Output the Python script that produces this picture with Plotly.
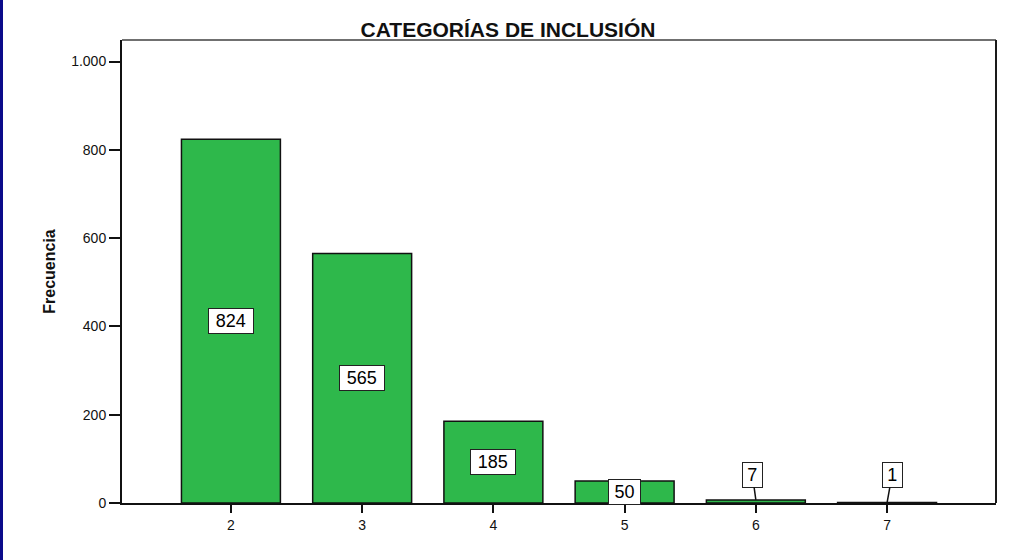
import plotly.graph_objects as go

# Frequency table for "CATEGORÍAS DE INCLUSIÓN"
categorias = ["2", "3", "4", "5", "6", "7"]
frecuencias = [824, 565, 185, 50, 7, 1]
y_ticks = [0, 200, 400, 600, 800, 1000]
y_tick_labels = ["0", "200", "400", "600", "800", "1.000"]

BAR_GREEN = "#2EB84B"
FONT = "Arial, 'Liberation Sans', sans-serif"

W, H = 1016, 560
M_L, M_R, M_T, M_B = 122, 20, 40, 57
plot_w = W - M_L - M_R

fig = go.Figure(
    go.Bar(
        x=categorias,
        y=frecuencias,
        width=0.754,
        marker=dict(color=BAR_GREEN, line=dict(color="#111111", width=1.5)),
        hoverinfo="x+y",
    )
)

# Value labels: boxed, centred in the bar; tiny bars get a leader line from above
annotations = []
for idx, (cat, val) in enumerate(zip(categorias, frecuencias)):
    txt = str(val)
    box_w = 12.5 * len(txt) + 6
    common = dict(
        x=idx,  # category axis position of this bar
        text=txt,
        font=dict(family=FONT, size=18, color="#000000"),
        bgcolor="#FFFFFF",
        bordercolor="#222222",
        borderwidth=1,
        borderpad=0,
        width=box_w,
        height=24,
        align="center",
        valign="middle",
    )
    if val >= 40:
        annotations.append(dict(common, y=val / 2, showarrow=False))
    else:
        shift = -3.5 if val > 3 else 5
        annotations.append(
            dict(
                common,
                y=val,
                showarrow=True,
                arrowhead=0,
                arrowwidth=1.5,
                arrowcolor="#111111",
                standoff=0,
                ax=shift,
                ay=-28 + val * 0.4,
            )
        )

fig.update_layout(
    width=W,
    height=H,
    margin=dict(l=M_L, r=M_R, t=M_T, b=M_B),
    paper_bgcolor="#FFFFFF",
    plot_bgcolor="#FFFFFF",
    showlegend=False,
    title=dict(
        text="<b>CATEGORÍAS DE INCLUSIÓN</b>",
        x=0.5,
        xref="container",
        xanchor="center",
        y=1 - 29.5 / H,
        yref="container",
        yanchor="middle",
        font=dict(family=FONT, size=21, color="#111111"),
    ),
    xaxis=dict(
        type="category",
        range=[-0.83, 5.83],
        showgrid=False,
        zeroline=False,
        showline=True,
        linecolor="#111111",
        linewidth=2,
        ticks="outside",
        ticklen=8,
        tickwidth=1.5,
        tickcolor="#111111",
        tickfont=dict(family=FONT, size=14, color="#111111"),
        fixedrange=True,
    ),
    yaxis=dict(
        range=[0, 1048.7],
        tickvals=y_ticks,
        ticktext=y_tick_labels,
        showgrid=False,
        zeroline=False,
        showline=True,
        linecolor="#111111",
        linewidth=2,
        ticks="outside",
        ticklen=11,
        tickwidth=1.5,
        tickcolor="#111111",
        tickfont=dict(family=FONT, size=14, color="#111111"),
        title=dict(
            text="<b>Frecuencia</b>",
            font=dict(family=FONT, size=16, color="#111111"),
            standoff=12,
        ),
        fixedrange=True,
    ),
    annotations=annotations,
    shapes=[
        # frame: grey top edge, dark right edge
        dict(type="line", xref="paper", yref="paper", x0=0, x1=1, y0=1, y1=1,
             line=dict(color="#707070", width=2)),
        dict(type="line", xref="paper", yref="paper", x0=1, x1=1, y0=0, y1=1,
             line=dict(color="#1A1A1A", width=2)),
        # navy strip along the left edge of the slide
        dict(type="rect", xref="paper", yref="paper",
             x0=-M_L / plot_w, x1=-(M_L - 3) / plot_w,
             y0=-M_B / (H - M_T - M_B), y1=1 + M_T / (H - M_T - M_B),
             fillcolor="#0A0A8A", line=dict(width=0), layer="above"),
    ],
)

fig.write_html("out.html")
